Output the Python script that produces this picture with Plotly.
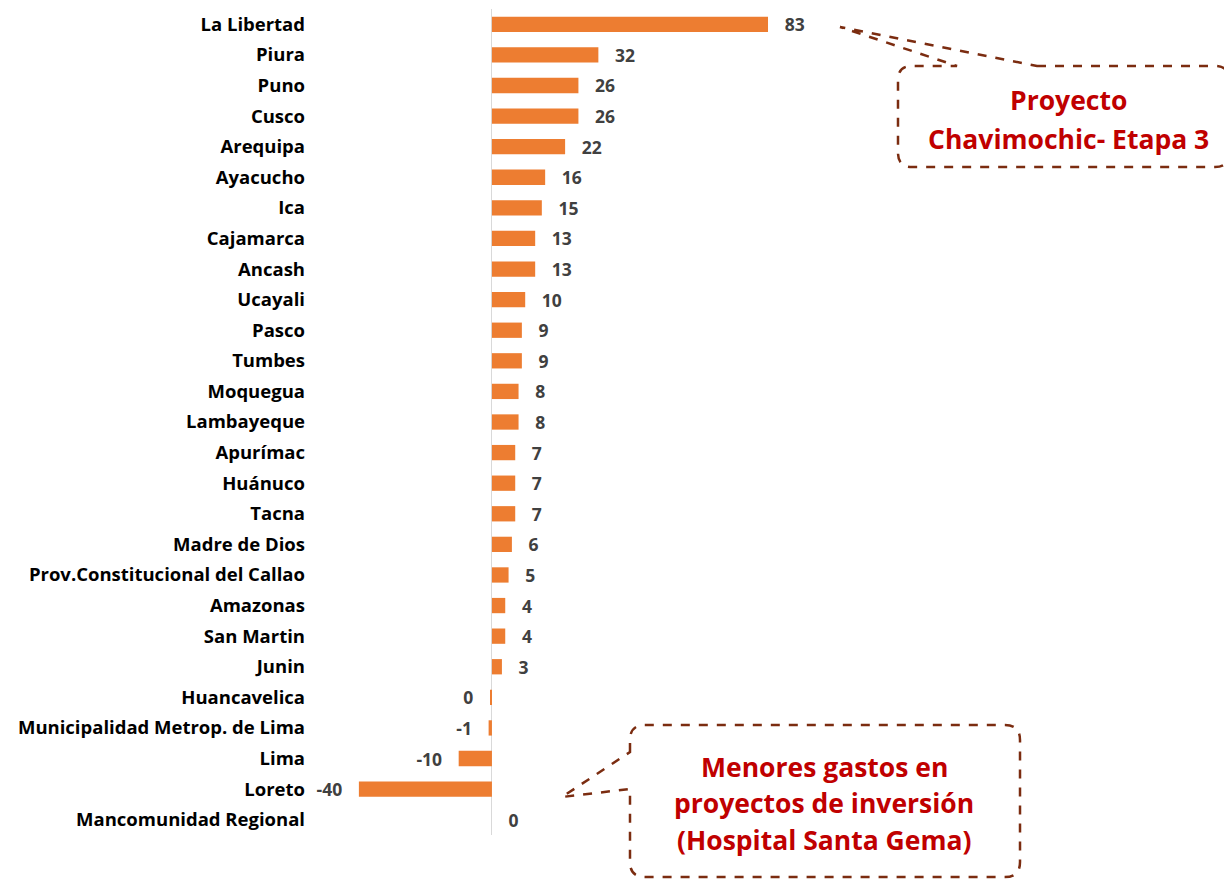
import plotly.graph_objects as go

regions = ["La Libertad", "Piura", "Puno", "Cusco", "Arequipa", "Ayacucho", "Ica",
           "Cajamarca", "Ancash", "Ucayali", "Pasco", "Tumbes", "Moquegua", "Lambayeque",
           "Apurímac", "Huánuco", "Tacna", "Madre de Dios", "Prov.Constitucional del Callao",
           "Amazonas", "San Martin", "Junin", "Huancavelica", "Municipalidad Metrop. de Lima",
           "Lima", "Loreto", "Mancomunidad Regional"]
values = [83, 32, 26, 26, 22, 16, 15, 13, 13, 10, 9, 9, 8, 8, 7, 7, 7, 6, 5, 4, 4, 3,
          -0.3, -1, -10, -40, 0]
labels = ["83", "32", "26", "26", "22", "16", "15", "13", "13", "10", "9", "9", "8", "8",
          "7", "7", "7", "6", "5", "4", "4", "3", "0", "-1", "-10", "-40", "0"]

# page body has an 8px default margin -> figure drawn offset by (8, 8)
OFF = 8
W, H = 1224, 871
ML, MR, MT, MB = 302, 0, 1, 44
X0, X1 = -54.7, 222.5

NB = "\u00a0"
texts = []
for v, l in zip(values, labels):
    if v < 0:
        texts.append(l + NB * 3)
    else:
        texts.append(NB * 3 + l)

FONT = "Open Sans"

fig = go.Figure(go.Bar(
    x=values, y=regions, orientation="h",
    marker=dict(color="#ed7d31", line=dict(width=0)),
    text=texts, textposition="outside", cliponaxis=False, constraintext="none",
    textfont=dict(family=FONT, size=17.5, color="#404040", weight="bold"),
    hoverinfo="skip",
))

pw = W - ML - MR
ph = H - MT - MB


def px(x):
    return (x - OFF - ML) / pw


def py(y):
    return (H - MB - (y - OFF)) / ph


def path(cmds):
    out = []
    for c in cmds:
        if isinstance(c, str):
            out.append(c)
        else:
            out.append(f"{px(c[0]):.5f},{py(c[1]):.5f}")
    return " ".join(out)


DC = "#7b2c10"
box1 = path(["M", (1037, 66), "L", (1215, 66), "Q", (1229, 66), (1229, 80), "L", (1229, 153),
             "Q", (1229, 167), (1215, 167), "L", (912, 167), "Q", (898, 167), (898, 153),
             "L", (898, 80), "Q", (898, 66), (912, 66), "L", (957, 66), "L", (840, 27), "Z"])
box2 = path(["M", (630, 752), "L", (630, 740), "Q", (630, 725), (645, 725), "L", (1005, 725),
             "Q", (1020, 725), (1020, 740), "L", (1020, 862), "Q", (1020, 877), (1005, 877),
             "L", (645, 877), "Q", (630, 877), (630, 862), "L", (630, 789), "L", (562, 797), "Z"])

shapes = [dict(type="path", xref="paper", yref="paper", path=p,
               line=dict(color=DC, width=2.5, dash="dash"), fillcolor="rgba(0,0,0,0)")
          for p in (box1, box2)]

annos = []
for txt, cx, cy in [("Proyecto", 1068, 100), ("Chavimochic- Etapa 3", 1068, 139),
                    ("Menores gastos en", 824, 767), ("proyectos de inversión", 824, 803),
                    ("(Hospital Santa Gema)", 824, 840)]:
    annos.append(dict(text=txt, x=px(cx), y=py(cy), xref="paper", yref="paper",
                      xanchor="center", yanchor="middle", showarrow=False,
                      font=dict(family=FONT, size=26.5, color="#c00000", weight="bold")))

fig.update_layout(
    width=W, height=H,
    margin=dict(l=ML, r=MR, t=MT, b=MB),
    paper_bgcolor="white", plot_bgcolor="white",
    showlegend=False, bargap=0.5,
    shapes=shapes, annotations=annos,
    xaxis=dict(range=[X0, X1], showgrid=False, showticklabels=False, ticks="",
               zeroline=True, zerolinecolor="#d9d9d9", zerolinewidth=1, fixedrange=True),
    yaxis=dict(autorange="reversed", showgrid=False, ticks="", showline=False,
               tickfont=dict(family=FONT, size=18.5, color="#000000", weight="bold"),
               ticklabelstandoff=4, fixedrange=True),
)

fig.write_html("out.html")
